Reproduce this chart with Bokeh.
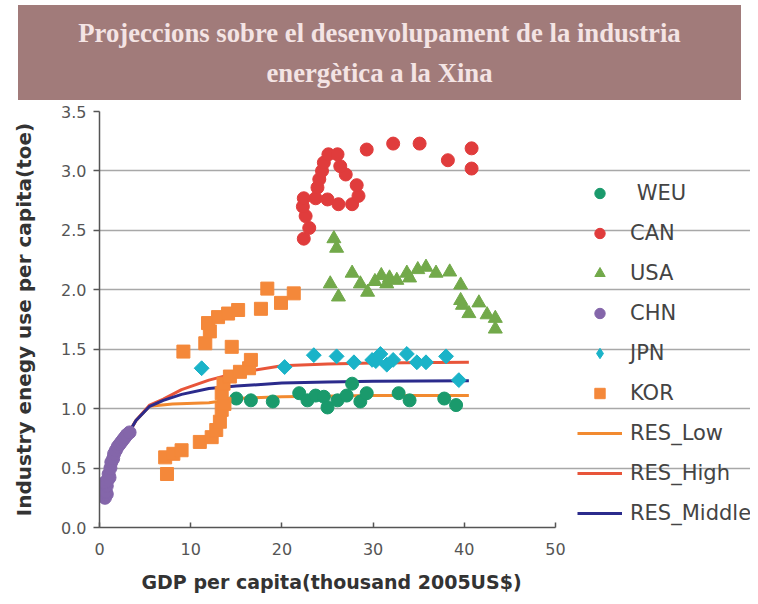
from bokeh.plotting import figure
from bokeh.models import Div, Legend, LegendItem, FixedTicker, NumeralTickFormatter, Range1d, Title
from bokeh.layouts import column
from bokeh.embed import file_html
from bokeh.resources import INLINE
import math

# ---- data ----
weu_x = [15.0, 16.6, 19.0, 21.9, 22.8, 23.7, 24.6, 25.0, 26.1, 27.1, 27.7, 28.6, 29.3, 32.8, 34.0, 37.8, 39.1]
weu_y = [1.085, 1.07, 1.06, 1.13, 1.07, 1.11, 1.10, 1.01, 1.07, 1.11, 1.21, 1.06, 1.13, 1.13, 1.07, 1.085, 1.03]

can_x = [22.4, 23.0, 22.6, 22.3, 22.4, 23.7, 25.0, 26.2, 27.7, 28.4, 28.2, 27.0, 26.4, 23.9, 24.1, 24.4, 24.6, 25.1, 26.1, 29.3, 32.2, 35.1, 38.2, 40.8, 40.8]
can_y = [2.43, 2.52, 2.62, 2.70, 2.77, 2.77, 2.76, 2.72, 2.72, 2.79, 2.88, 2.97, 3.04, 2.86, 2.93, 3.00, 3.07, 3.14, 3.14, 3.18, 3.23, 3.23, 3.09, 3.19, 3.02]

usa_x = [25.7, 26.0, 25.3, 26.2, 27.7, 28.6, 29.4, 30.2, 30.9, 31.5, 31.8, 32.6, 33.7, 34.0, 34.9, 35.8, 36.9, 38.4, 39.6, 39.6, 39.8, 40.5, 41.6, 42.5, 43.4, 43.4]
usa_y = [2.43, 2.35, 2.05, 1.94, 2.14, 2.05, 1.98, 2.07, 2.12, 2.05, 2.10, 2.08, 2.14, 2.10, 2.17, 2.19, 2.14, 2.15, 2.04, 1.91, 1.87, 1.80, 1.89, 1.79, 1.76, 1.67]

chn_x = [0.6, 0.8, 0.5, 0.7, 0.8, 0.6, 0.9, 1.0, 1.1, 1.2, 1.3, 1.5, 1.6, 1.8, 2.0, 2.2, 2.4, 2.6, 2.8, 3.0, 3.3]
chn_y = [0.25, 0.28, 0.32, 0.30, 0.35, 0.38, 0.40, 0.45, 0.42, 0.50, 0.55, 0.58, 0.62, 0.65, 0.68, 0.70, 0.72, 0.74, 0.76, 0.78, 0.80]

jpn_x = [11.2, 20.3, 23.5, 26.0, 27.9, 29.9, 30.3, 30.8, 31.5, 32.2, 33.7, 34.8, 35.8, 38.0, 39.4]
jpn_y = [1.34, 1.35, 1.45, 1.44, 1.39, 1.41, 1.40, 1.46, 1.37, 1.41, 1.46, 1.39, 1.39, 1.44, 1.24]

kor_x = [7.4, 7.2, 8.1, 9.0, 11.0, 12.3, 12.8, 13.2, 13.4, 13.7, 13.4, 13.6, 14.3, 15.4, 16.4, 16.6, 14.5, 11.6, 9.2, 12.1, 11.9, 13.0, 14.1, 15.2, 17.7, 18.4, 19.9, 21.3]
kor_y = [0.45, 0.59, 0.62, 0.65, 0.72, 0.76, 0.82, 0.89, 0.99, 1.04, 1.13, 1.21, 1.27, 1.31, 1.34, 1.41, 1.52, 1.55, 1.48, 1.65, 1.72, 1.77, 1.80, 1.83, 1.84, 2.01, 1.89, 1.97]

res_low_x = [0.6, 1.0, 2.0, 3.0, 4.0, 5.5, 8.0, 12.0, 14.0, 16.0, 20.0, 30.0, 40.5]
res_low_y = [0.30, 0.42, 0.62, 0.77, 0.90, 1.02, 1.04, 1.05, 1.07, 1.09, 1.10, 1.11, 1.11]

res_high_x = [0.6, 1.0, 2.0, 3.0, 4.0, 5.5, 7.0, 9.0, 12.0, 15.0, 20.0, 25.0, 30.0, 40.5]
res_high_y = [0.30, 0.42, 0.62, 0.77, 0.90, 1.03, 1.08, 1.16, 1.24, 1.30, 1.36, 1.375, 1.385, 1.39]

res_mid_x = [0.6, 1.0, 2.0, 3.0, 4.0, 5.5, 7.0, 9.0, 12.0, 15.0, 20.0, 25.0, 30.0, 40.5]
res_mid_y = [0.30, 0.42, 0.62, 0.77, 0.90, 1.02, 1.07, 1.12, 1.17, 1.19, 1.215, 1.225, 1.23, 1.235]

x_ticks = [0, 10, 20, 30, 40, 50]
y_ticks = [0.0, 0.5, 1.0, 1.5, 2.0, 2.5, 3.0, 3.5]

title_text = "Projeccions sobre el desenvolupament de la industria<br>energètica a la Xina"
x_label = "GDP per capita(thousand 2005US$)"
y_label = "Industry enegy use per capita(toe)"

# ---- banner ----
banner = Div(
    text=('<div style="background:#a17b7a;width:723px;height:95px;margin-left:18px;margin-top:5px;'
          'display:flex;align-items:center;justify-content:center;text-align:center;'
          'color:#f4e4e4;font-family:\'Liberation Serif\',serif;font-weight:bold;'
          'font-size:26.7px;line-height:40px;">' + title_text + '</div>'),
    width=750, height=100, margin=(0, 0, 0, 0),
)

# ---- figure ----
# frame spans 99..750 px; x = 50 falls at 555 px (456 px for 50 units)
p = figure(width=750, height=504, output_backend="svg", toolbar_location=None,
           x_range=Range1d(0, 50 * 651 / 456), y_range=Range1d(0, 3.5),
           min_border_left=99, min_border_right=0, min_border_top=11, min_border_bottom=76,
           margin=(0, 0, 0, 0))
p.outline_line_color = None
p.xgrid.grid_line_color = None
p.ygrid.grid_line_color = "#a8a8a8"
p.ygrid.grid_line_width = 1.5
p.ygrid.ticker = FixedTicker(ticks=y_ticks)
p.ygrid.bounds = (0, 50)

p.xaxis.ticker = FixedTicker(ticks=x_ticks)
p.xaxis.bounds = (0, 50)
p.yaxis.ticker = FixedTicker(ticks=y_ticks)
p.yaxis.formatter = NumeralTickFormatter(format="0.0")
p.xaxis.minor_tick_line_color = None
p.yaxis.minor_tick_line_color = None
for ax in (p.xaxis, p.yaxis):
    ax.axis_line_color = "#555555"
    ax.axis_line_width = 1.5
    ax.major_tick_line_color = "#555555"
    ax.major_tick_line_width = 1.5
    ax.major_label_text_font = "DejaVu Sans"
    ax.major_label_text_font_size = "16px"
    ax.major_label_text_color = "#555555"
    ax.axis_label_text_font = "DejaVu Sans"
    ax.axis_label_text_font_size = "20px"
    ax.axis_label_text_font_style = "bold"
    ax.axis_label_text_color = "#333333"
p.xaxis.major_tick_in = 5
p.xaxis.major_tick_out = 0
p.xaxis.major_label_standoff = 15
p.yaxis.major_tick_in = 0
p.yaxis.major_tick_out = 6
p.yaxis.major_label_standoff = 7
p.yaxis.axis_label = y_label
p.yaxis.axis_label_standoff = 22

# x-axis title, centred under the 0..50 span of the axis
p.add_layout(Title(text=x_label, align="left", offset=42, standoff=23,
                   text_font="DejaVu Sans", text_font_size="19px", text_font_style="bold",
                   text_color="#333333"), "below")

# lines
r_low = p.line(res_low_x, res_low_y, line_color="#f28a30", line_width=3)
r_high = p.line(res_high_x, res_high_y, line_color="#e8553a", line_width=3)
r_mid = p.line(res_mid_x, res_mid_y, line_color="#2b2b8c", line_width=3)

# scatters
r_weu = p.scatter(weu_x, weu_y, marker="circle", size=13, fill_color="#1a9a6c", line_color="#1a9a6c")
r_can = p.scatter(can_x, can_y, marker="circle", size=13, fill_color="#e03c3c", line_color="#e03c3c")
r_usa = p.scatter(usa_x, usa_y, marker="triangle", size=14, fill_color="#72a94a", line_color="#72a94a")
r_chn = p.scatter(chn_x, chn_y, marker="circle", size=13, fill_color="#8466aa", line_color="#8466aa")
# diamond glyph (used for the legend key) sits fully under the rotated-square diamonds
r_jpn_key = p.scatter(jpn_x, jpn_y, marker="diamond", size=13, fill_color="#1ab3c8", line_color="#1ab3c8")
p.scatter(jpn_x, jpn_y, marker="square", angle=math.pi / 4, size=10.5, fill_color="#1ab3c8", line_color="#1ab3c8")
r_kor = p.scatter(kor_x, kor_y, marker="square", size=13, fill_color="#f4883a", line_color="#f4883a")

legend = Legend(items=[
    LegendItem(label=" WEU", renderers=[r_weu]),
    LegendItem(label="CAN", renderers=[r_can]),
    LegendItem(label="USA", renderers=[r_usa]),
    LegendItem(label="CHN", renderers=[r_chn]),
    LegendItem(label="JPN", renderers=[r_jpn_key]),
    LegendItem(label="KOR", renderers=[r_kor]),
    LegendItem(label="RES_Low", renderers=[r_low]),
    LegendItem(label="RES_High", renderers=[r_high]),
    LegendItem(label="RES_Middle", renderers=[r_mid]),
], location=(478, 1), orientation="vertical")
legend.border_line_color = None
legend.background_fill_alpha = 0
legend.padding = 0
legend.margin = 0
legend.spacing = 14
legend.glyph_width = 45
legend.glyph_height = 26
legend.label_height = 26
legend.label_standoff = 8
legend.label_text_font = "DejaVu Sans"
legend.label_text_font_size = "21px"
legend.label_text_color = "#444444"
p.add_layout(legend, "center")

layout = column(banner, p, spacing=0)
open("out.html", "w").write(file_html(layout, INLINE))
